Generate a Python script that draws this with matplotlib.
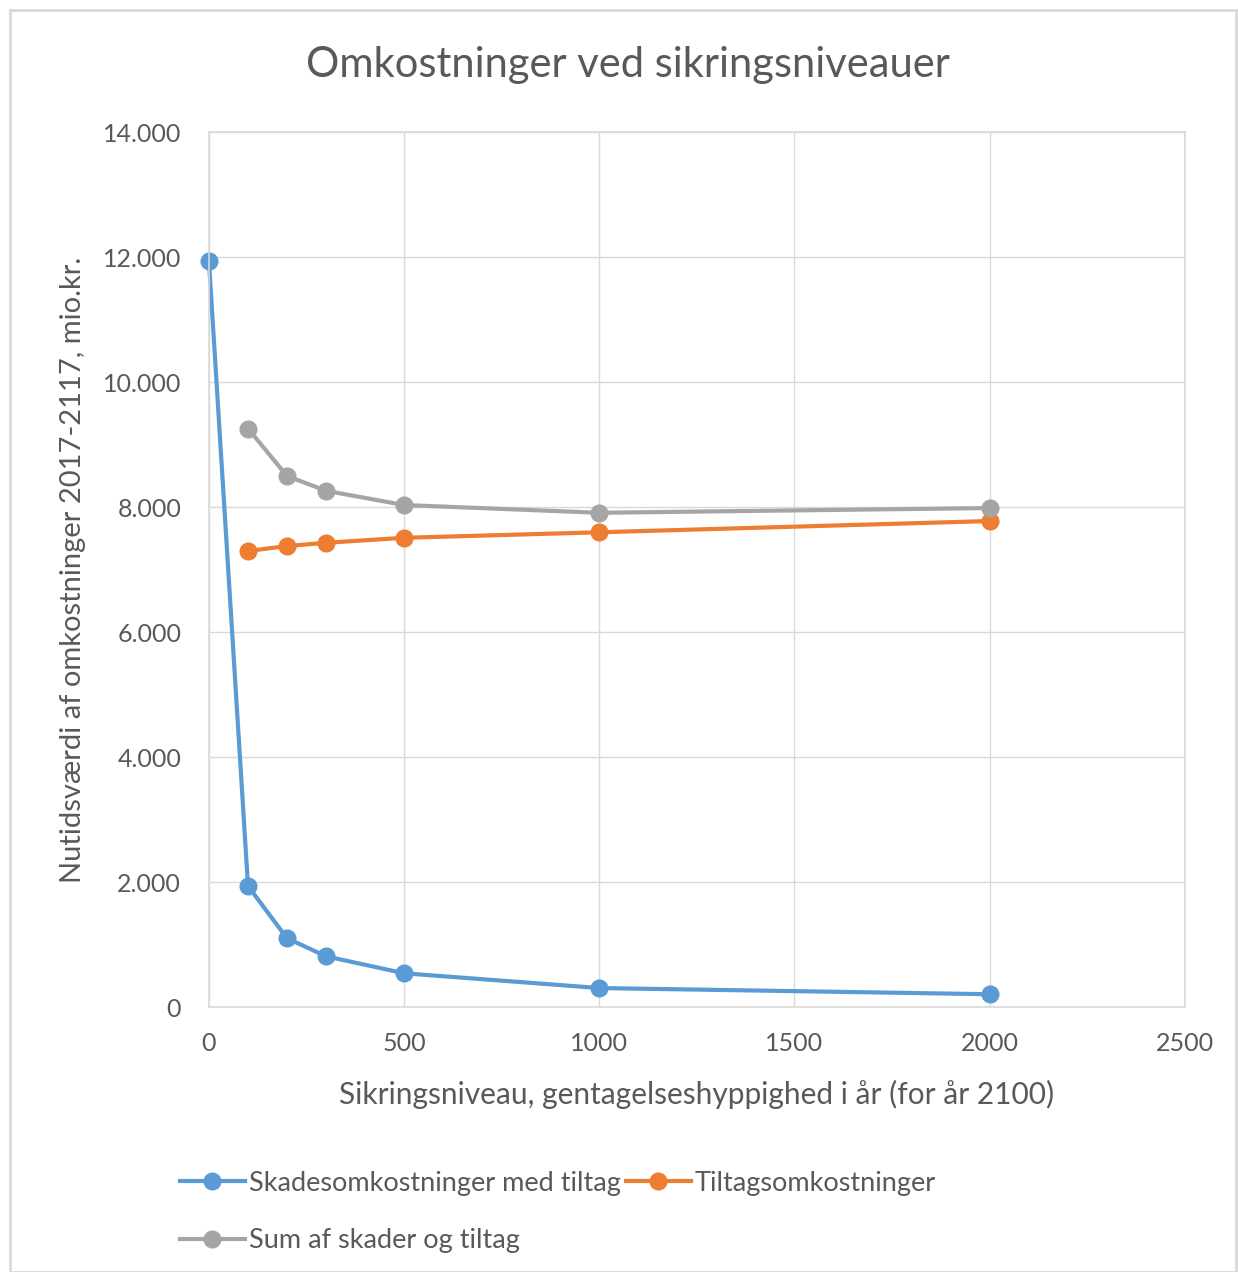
import matplotlib.pyplot as plt
from matplotlib.patches import Rectangle
from matplotlib.ticker import FuncFormatter

plt.rcParams['font.family'] = ['Lato', 'DejaVu Sans']

# Sikringsniveau (gentagelseshyppighed i år)
levels_blue = [0, 100, 200, 300, 500, 1000, 2000]
levels = [100, 200, 300, 500, 1000, 2000]

# mio.kr.
skader = [11930, 1936, 1100, 812, 540, 304, 205]
tiltag = [7296, 7376, 7428, 7508, 7596, 7776]
total = [9256, 8496, 8260, 8032, 7908, 7984]

labels = ["Skadesomkostninger med tiltag", "Tiltagsomkostninger",
          "Sum af skader og tiltag"]
colors = ["#5B9BD5", "#ED7D31", "#A5A5A5"]
text_color = "#595959"

fig = plt.figure(figsize=(12.38, 12.72), dpi=100)
ax = fig.add_axes([0.1688, 0.2083, 0.957 - 0.1688, 0.8962 - 0.2083])

# chart border like the Excel frame
fig.patches.append(Rectangle((10 / 1238, 0), 1 - 12 / 1238, 1 - 10 / 1272,
                             transform=fig.transFigure, fill=False,
                             edgecolor="#D9D9D9", linewidth=2))

style = dict(linewidth=3, marker="o", markersize=12)
h1, = ax.plot(levels_blue, skader, color=colors[0], label=labels[0], **style)
h2, = ax.plot(levels, tiltag, color=colors[1], label=labels[1], **style)
h3, = ax.plot(levels, total, color=colors[2], label=labels[2], **style)
for h in (h1, h2, h3):
    h.set_clip_on(False)

ax.set_xlim(0, 2500)
ax.set_ylim(0, 14000)
ax.set_xticks(range(0, 2501, 500))
ax.set_yticks(range(0, 14001, 2000))
ax.yaxis.set_major_formatter(FuncFormatter(lambda v, p: f"{int(v):,}".replace(",", ".")))
ax.grid(True, color="#D9D9D9", linewidth=1)
ax.set_axisbelow(True)
for side, sp in ax.spines.items():
    sp.set_color("#D9D9D9")
    sp.set_linewidth(1.2)
ax.tick_params(length=0, labelsize=18, colors=text_color)
ax.tick_params(axis="x", pad=18)
ax.tick_params(axis="y", pad=20)

ax.set_xlabel("Sikringsniveau, gentagelseshyppighed i år (for år 2100)",
              fontsize=21.5, color=text_color, labelpad=18)
ax.set_ylabel("Nutidsværdi af omkostninger 2017-2117, mio.kr.",
              fontsize=21, color=text_color, labelpad=12)
fig.text(628 / 1238, 1 - 65 / 1272, "Omkostninger ved sikringsniveauer",
         ha="center", va="center", fontsize=30, color=text_color)

leg = fig.legend([h1, h3, h2], [labels[0], labels[2], labels[1]],
                 loc="upper left", bbox_to_anchor=(166 / 1238, 1 - 1157 / 1272),
                 ncol=2, frameon=False, fontsize=19.5, handlelength=2.4,
                 handletextpad=0.15, columnspacing=0.2, labelspacing=1.2,
                 borderpad=0)
for t in leg.get_texts():
    t.set_color(text_color)

fig.savefig("out.png", dpi=100)
